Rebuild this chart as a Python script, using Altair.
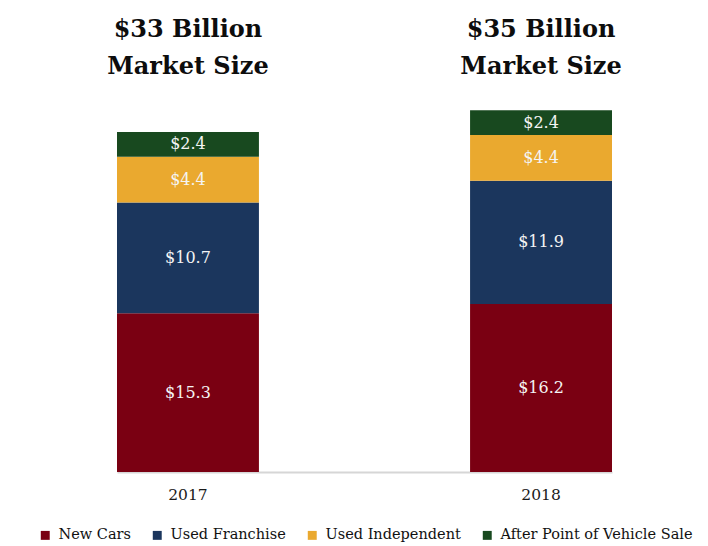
import altair as alt
import pandas as pd

years = ["2017", "2018"]
segments = ["New Cars", "Used Franchise", "Used Independent", "After Point of Vehicle Sale"]
new_cars = [15.3, 16.2]
used_franchise = [10.7, 11.9]
used_independent = [4.4, 4.4]
after_sale = [2.4, 2.4]
market_titles = ["$33 Billion\nMarket Size", "$35 Billion\nMarket Size"]
colors = ["#7A0012", "#1B365D", "#EAA92F", "#18491F"]

series = [new_cars, used_franchise, used_independent, after_sale]
rows = []
for si, (seg, vals) in enumerate(zip(segments, series)):
    for yi, yr in enumerate(years):
        rows.append({"year": yr, "segment": seg, "idx": si, "value": vals[yi]})
df = pd.DataFrame(rows)
titles_df = pd.DataFrame({"year": years, "label": market_titles})

SERIF = "DejaVu Serif"

x_enc = alt.X(
    "year:N",
    sort=years,
    scale=alt.Scale(range=[109, 604], paddingInner=0.598, paddingOuter=0),
    axis=alt.Axis(
        title=None, ticks=False, labelAngle=0, labelFont=SERIF, labelFontSize=15.5,
        labelColor="#1a1a1a", labelPadding=15, domainColor="#D6D6D6", domainWidth=2,
        grid=False,
    ),
)
y_scale = alt.Scale(domain=[0, 44.75], nice=False, zero=True)

base = alt.Chart(df).transform_stack(
    stack="value", groupby=["year"], as_=["v0", "v1"], sort=[alt.SortField("idx", order="ascending")]
).transform_calculate(
    mid="(datum.v0 + datum.v1) / 2",
    txt="'$' + format(datum.value, '.1f')",
)

bars = base.mark_bar().encode(
    x=x_enc,
    y=alt.Y("v0:Q", scale=y_scale, axis=None),
    y2="v1:Q",
    color=alt.Color(
        "segment:N",
        scale=alt.Scale(domain=segments, range=colors),
        legend=alt.Legend(
            title=None, orient="none", legendX=30, legendY=520, direction="horizontal",
            symbolType="square", symbolSize=80, symbolStrokeWidth=0,
            labelFont=SERIF, labelFontSize=14.5, labelColor="#111111",
            labelOffset=6, columnPadding=19, labelLimit=400,
        ),
    ),
)

labels = base.mark_text(font=SERIF, fontSize=16, color="#F4F4F4", baseline="middle").encode(
    x=alt.X("year:N", sort=years),
    y=alt.Y("mid:Q", scale=y_scale),
    text="txt:N",
)

heads = alt.Chart(titles_df).mark_text(
    font=SERIF, fontSize=24, fontWeight="bold", color="#0d0d0d",
    baseline="alphabetic", lineBreak="\n", lineHeight=37, align="center",
).encode(
    x=alt.X("year:N", sort=years),
    y=alt.value(29),
    text="label:N",
)

chart = alt.layer(bars, labels, heads).properties(
    width=692, height=464, padding=0
).configure_view(stroke=None)

chart.save("out.html", embed_options={"renderer": "svg", "actions": False})
